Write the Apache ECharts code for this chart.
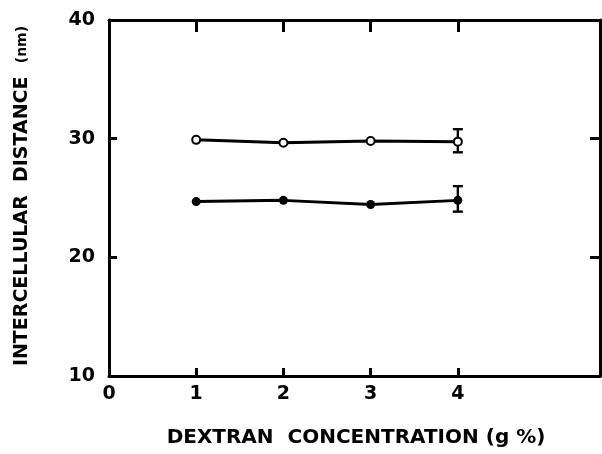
<!DOCTYPE html>
<html>
<head>
<meta charset="utf-8">
<script src="https://cdn.jsdelivr.net/npm/echarts@6/dist/echarts.min.js"></script>
<style>html,body{margin:0;padding:0;background:#fff;}#c{width:602px;height:454px;}</style>
</head>
<body>
<div id="c"></div>
<script>
// Data
var xValues = [1, 2, 3, 4];
var openValues = [29.9, 29.65, 29.8, 29.75];     // open circles
var filledValues = [24.7, 24.8, 24.45, 24.8];    // filled circles
var openErr = [[4, 28.85, 30.8]];                // [x, low, high]
var filledErr = [[4, 23.85, 26.0]];
var xTickLabels = [0, 1, 2, 3, 4];
var yTickLabels = [10, 20, 30, 40];
var xTitle = 'DEXTRAN  CONCENTRATION (g %)';
var yTitleMain = 'INTERCELLULAR  DISTANCE  ';
var yTitleUnit = '(nm)';

var FONT = 'DejaVu Sans';
function pairs(xs, ys) { return xs.map(function (x, i) { return [x, ys[i]]; }); }

function errRender(params, api) {
  var x = api.value(0), lo = api.value(1), hi = api.value(2);
  var pLo = api.coord([x, lo]), pHi = api.coord([x, hi]);
  var w = 5;
  var st = { stroke: '#000', lineWidth: 2.4 };
  return {
    type: 'group',
    children: [
      { type: 'line', shape: { x1: pLo[0], y1: pLo[1], x2: pHi[0], y2: pHi[1] }, style: st },
      { type: 'line', shape: { x1: pLo[0] - w, y1: pLo[1], x2: pLo[0] + w, y2: pLo[1] }, style: st },
      { type: 'line', shape: { x1: pHi[0] - w, y1: pHi[1], x2: pHi[0] + w, y2: pHi[1] }, style: st }
    ]
  };
}

var chart = echarts.init(document.getElementById('c'), null, { renderer: 'canvas' });
var axisLine = { show: true, onZero: false, lineStyle: { color: '#000', width: 3 } };
var labelStyle = { color: '#000', fontFamily: FONT, fontWeight: 'bold', fontSize: 19 };
chart.setOption({
  animation: false,
  backgroundColor: '#fff',
  grid: { left: 109, right: 2, top: 20, bottom: 78 },
  xAxis: [
    {
      type: 'value', position: 'bottom', min: 0, max: 5.63,
      axisLine: axisLine, splitLine: { show: false },
      axisTick: { show: true, inside: true, length: 8, lineStyle: { color: '#000', width: 3 }, customValues: xValues },
      axisLabel: Object.assign({ margin: 9, customValues: xTickLabels }, labelStyle)
    },
    {
      type: 'value', position: 'top', min: 0, max: 5.63,
      axisLine: axisLine, splitLine: { show: false },
      axisTick: { show: true, inside: true, length: 12, lineStyle: { color: '#000', width: 3 }, customValues: xValues },
      axisLabel: { show: false }
    }
  ],
  yAxis: [
    {
      type: 'value', position: 'left', min: 10, max: 40,
      axisLine: axisLine, splitLine: { show: false },
      axisTick: { show: true, inside: true, length: 8, lineStyle: { color: '#000', width: 3 }, customValues: [20, 30] },
      axisLabel: Object.assign({ margin: 14, customValues: yTickLabels }, labelStyle)
    },
    {
      type: 'value', position: 'right', min: 10, max: 40,
      axisLine: axisLine, splitLine: { show: false },
      axisTick: { show: true, inside: true, length: 10, lineStyle: { color: '#000', width: 3 }, customValues: [20, 30] },
      axisLabel: { show: false }
    }
  ],
  series: [
    {
      type: 'line', data: pairs(xValues, openValues),
      symbol: 'circle', symbolSize: 8,
      lineStyle: { color: '#000', width: 3 },
      itemStyle: { color: '#fff', borderColor: '#000', borderWidth: 2 },
      z: 3
    },
    {
      type: 'line', data: pairs(xValues, filledValues),
      symbol: 'circle', symbolSize: 9,
      lineStyle: { color: '#000', width: 3 },
      itemStyle: { color: '#000', borderColor: '#000', borderWidth: 0 },
      z: 3
    },
    { type: 'custom', renderItem: errRender, data: openErr, z: 2 },
    { type: 'custom', renderItem: errRender, data: filledErr, z: 2 }
  ],
  graphic: [
    {
      type: 'text', x: 356, y: 428,
      style: { text: xTitle, fill: '#000', font: 'bold 20px "' + FONT + '"', align: 'center', verticalAlign: 'top' }
    },
    {
      type: 'text', x: 13, y: 196, rotation: Math.PI / 2,
      style: {
        text: '{a|' + yTitleMain + '}{b|' + yTitleUnit + '}',
        align: 'center', verticalAlign: 'top',
        rich: {
          a: { fontFamily: FONT, fontWeight: 'bold', fontSize: 19, fill: '#000' },
          b: { fontFamily: FONT, fontWeight: 'bold', fontSize: 14, fill: '#000' }
        }
      }
    }
  ]
});
</script>
</body>
</html>
